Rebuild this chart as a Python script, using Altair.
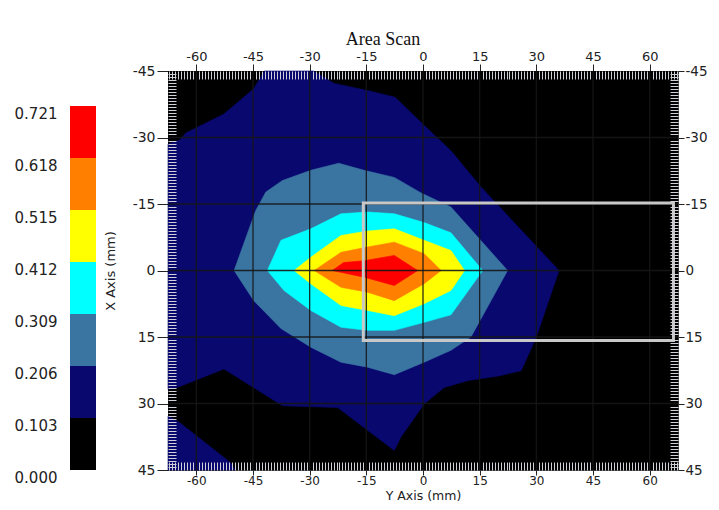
import altair as alt
import pandas as pd

# ---------------- text ----------------
chart_title = "Area Scan"
x_title = "Y Axis (mm)"
y_title = "X Axis (mm)"

# ---------------- colour bar ----------------
levels = [0.000, 0.103, 0.206, 0.309, 0.412, 0.515, 0.618, 0.721]
band_names = ["b0", "b1", "b2", "b3", "b4", "b5", "b6"]
band_colors = ["#000000", "#08086E", "#3A75A2", "#00FFFF", "#FFFF00", "#FF8000", "#FF0000"]

# ---------------- axes ----------------
major_x = [-60, -45, -30, -15, 0, 15, 30, 45, 60]
major_y = [-45, -30, -15, 0, 15, 30, 45]
grid_x = [-60, -45, -30, -15, 0, 15, 30, 45, 60]
grid_y = [-30, -15, 0, 15, 30]

# ---------------- contour boundaries (mm) ----------------
# navy region (0.103 contour)
navy_up_x = [-67.5, -64.3, -62.8, -60.0, -52.7, -44.8, -42.0, -29.0, -23.5, -14.7, -7.4, 0.0, 7.4, 15.4, 36.0]
navy_up_y = [-28.5, -29.5, -31.0, -32.2, -35.3, -41.0, -45.0, -45.0, -42.2, -40.6, -39.1, -33.0, -27.0, -18.8, 0.0]
navy_lo_x = [-67.5, -64.5, -52.7, -37.2, -22.6, -7.6, -5.8, 0.3, 5.6, 12.0, 20.0, 26.0, 30.0, 36.0]
navy_lo_y = [26.8, 26.2, 22.2, 30.5, 30.9, 40.6, 37.5, 30.1, 26.4, 24.8, 23.8, 22.6, 15.0, 0.0]
# small navy patch in the lower-left corner
navy_corner_x = [-67.5, -64.6, -51.0, -49.8]
navy_corner_y = [32.8, 34.2, 43.3, 45.0]
# steel blue (0.206)
steel_up_x = [-50.0, -44.3, -41.6, -37.2, -29.7, -22.3, -15.6, -7.6, -0.5, 7.4, 22.4]
steel_up_y = [0.0, -13.5, -17.7, -20.3, -22.6, -24.2, -22.6, -21.0, -17.5, -14.3, 0.0]
steel_lo_x = [-50.0, -44.8, -37.6, -29.7, -21.7, -14.7, -7.6, 0.3, 7.4, 12.7, 22.4]
steel_lo_y = [0.0, 6.8, 13.1, 17.3, 20.7, 21.8, 23.5, 20.7, 18.0, 15.0, 0.0]
# cyan (0.309)
cyan_up_x = [-41.2, -37.6, -29.7, -21.7, -14.7, -7.6, 0.3, 7.4, 15.8]
cyan_up_y = [0.0, -6.8, -9.4, -12.8, -13.2, -12.8, -10.8, -8.5, 0.0]
cyan_lo_x = [-41.2, -36.8, -29.7, -21.7, -14.7, -7.6, 0.3, 7.4, 15.8]
cyan_lo_y = [0.0, 4.5, 9.0, 12.8, 13.5, 13.5, 11.7, 10.0, 0.0]
# yellow (0.412)
yel_up_x = [-34.1, -29.7, -21.7, -14.7, -7.6, 0.3, 7.4, 11.0]
yel_up_y = [0.0, -3.0, -7.9, -8.9, -9.4, -6.8, -4.5, 0.0]
yel_lo_x = [-34.1, -29.7, -21.7, -14.7, -7.6, 0.3, 7.4, 11.0]
yel_lo_y = [0.0, 3.0, 7.9, 9.0, 10.2, 7.5, 4.5, 0.0]
# orange (0.515)
org_up_x = [-28.8, -21.7, -14.7, -7.6, 0.3, 4.8]
org_up_y = [0.0, -4.1, -5.3, -6.4, -3.8, 0.0]
org_lo_x = [-28.8, -21.7, -14.7, -7.6, 0.3, 4.8]
org_lo_y = [0.0, 3.8, 4.9, 6.8, 3.0, 0.0]
# red (0.618)
red_up_x = [-24.0, -21.0, -15.6, -7.6, -1.4]
red_up_y = [0.0, -1.8, -2.2, -3.4, 0.0]
red_lo_x = [-24.0, -15.6, -7.6, -1.4]
red_lo_y = [0.0, 1.5, 3.4, 0.0]

# highlighted rectangle (mm)
box_x = [-15.8]
box_x2 = [66.3]
box_y = [-15.2]
box_y2 = [15.8]

# ---------------- helpers ----------------
FONT = "DejaVu Sans"
TXT = "#222222"
W, H = 510, 399
X_DOM = [-67.5, 67.5]
Y_DOM = [-45, 45]

minor_x = [k * 15 / 19 for k in range(-85, 86) if k % 19 != 0]
minor_y = [k * 15 / 22 for k in range(-65, 66) if k % 22 != 0]


def xs():
    return alt.Scale(domain=X_DOM, nice=False, zero=False)


def ys():
    return alt.Scale(domain=Y_DOM, reverse=True, nice=False, zero=False)


def inner_axis(orient, values):
    return alt.Axis(orient=orient, offset=-8, values=values, labels=False, domain=False,
                    ticks=True, tickSize=8, tickColor="#D0D0D8", tickWidth=1,
                    grid=False, title=None, zindex=1)


def label_axis(orient, values, tick, size=13, **kw):
    return alt.Axis(orient=orient, values=values, labelExpr="'' + datum.value",
                    labelFont=FONT, labelFontSize=size,
                    labelColor=TXT, tickColor=TXT, tickSize=tick, tickWidth=1, domain=True,
                    domainColor="#333333", grid=False, labelFlush=False, labelOverlap=False, **kw)


def half(xv, yv, color, base=0, xaxis=None, yaxis=None):
    df = pd.DataFrame({"x": xv, "y": yv})
    return alt.Chart(df).mark_area(color=color, orient="vertical", opacity=1,
                                   stroke=color, strokeWidth=0.6).encode(
        x=alt.X("x:Q", scale=xs(), axis=xaxis),
        y=alt.Y("y:Q", scale=ys(), axis=yaxis),
        y2=alt.datum(base),
    )


# black plot background
background = alt.Chart(pd.DataFrame({"k": [0]})).mark_rect(color="#000000").encode(
    x=alt.value(0), x2=alt.value(W), y=alt.value(0), y2=alt.value(H)
)

bottom_axis = label_axis("bottom", major_x, 5, size=12, labelPadding=0, title=x_title,
                         titleFont=FONT, titleFontSize=12.5, titleFontWeight="normal",
                         titleColor=TXT, titleY=29, titleBaseline="alphabetic")
left_axis = label_axis("left", major_y, 11, size=14, labelPadding=2, title=y_title,
                       titleFont=FONT, titleFontSize=13, titleFontWeight="normal",
                       titleColor=TXT, titleX=-58, titleY=H / 2, titleAngle=270,
                       titleBaseline="middle", titleAlign="center")

layers = [
    half(navy_up_x, navy_up_y, band_colors[1], xaxis=bottom_axis, yaxis=left_axis),
    half(navy_lo_x, navy_lo_y, band_colors[1]),
    half(navy_corner_x, navy_corner_y, band_colors[1], base=45),
    half(steel_up_x, steel_up_y, band_colors[2]),
    half(steel_lo_x, steel_lo_y, band_colors[2]),
    half(cyan_up_x, cyan_up_y, band_colors[3]),
    half(cyan_lo_x, cyan_lo_y, band_colors[3]),
    half(yel_up_x, yel_up_y, band_colors[4]),
    half(yel_lo_x, yel_lo_y, band_colors[4]),
    half(org_up_x, org_up_y, band_colors[5]),
    half(org_lo_x, org_lo_y, band_colors[5]),
    half(red_up_x, red_up_y, band_colors[6],
         xaxis=inner_axis("top", minor_x), yaxis=inner_axis("right", minor_y)),
    half(red_lo_x, red_lo_y, band_colors[6]),
]

# grid lines (drawn over the contours) with the top / right labelled axes
grid_v = alt.Chart(pd.DataFrame({"gx": grid_x})).mark_rule(
    color="#161616", strokeWidth=1.3, opacity=0.9).encode(
    x=alt.X("gx:Q", scale=xs(), axis=label_axis("top", major_x, 7, labelPadding=1, title=None)),
)
grid_h = alt.Chart(pd.DataFrame({"gy": grid_y})).mark_rule(
    color="#161616", strokeWidth=1.3, opacity=0.9).encode(
    y=alt.Y("gy:Q", scale=ys(), axis=label_axis("right", major_y, 6, size=13.5, labelPadding=1,
                                                  title=None)),
)

box = alt.Chart(pd.DataFrame({"bx": box_x, "bx2": box_x2, "by": box_y, "by2": box_y2})).mark_rect(
    fillOpacity=0, stroke="#C8C8C8", strokeWidth=3).encode(
    x=alt.X("bx:Q", scale=xs(), axis=inner_axis("bottom", minor_x)),
    x2="bx2:Q",
    y=alt.Y("by:Q", scale=ys(), axis=inner_axis("left", minor_y)),
    y2="by2:Q",
)

cb_df = pd.DataFrame({"lo": levels[:-1], "hi": levels[1:], "band": band_names})
colorbar = alt.Chart(cb_df).mark_rect().encode(
    x=alt.value(-98),
    x2=alt.value(-72),
    y=alt.Y("lo:Q",
            scale=alt.Scale(domain=[levels[0], levels[-1]], range=[H, 35], nice=False, zero=False),
            axis=alt.Axis(orient="left", offset=98, values=levels, format=".3f", ticks=False,
                          domain=False, grid=False, labelPadding=13, labelBaseline="top",
                          labelFont=FONT, labelFontSize=15, labelColor=TXT, title=None,
                          labelFlush=False, labelOverlap=False)),
    y2="hi:Q",
    color=alt.Color("band:N", scale=alt.Scale(domain=band_names, range=band_colors), legend=None),
)

chart = alt.layer(background, *layers, grid_v, grid_h, box, colorbar).resolve_scale(
    y="independent"
).resolve_axis(
    x="independent", y="independent"
).properties(
    width=W,
    height=H,
    autosize=alt.AutoSizeParams(type="none"),
    padding={"left": 160, "top": 63, "right": 33, "bottom": 32},
    title=alt.TitleParams(chart_title, font="Liberation Serif", fontSize=18, fontWeight="normal",
                          color="#111111", anchor="middle", frame="group", dx=-40, offset=1),
).configure_view(
    fill="#000000", stroke="#333333", strokeWidth=1
).configure(
    background="white"
)

chart.save("out.html", embed_options={"renderer": "svg", "actions": False})
